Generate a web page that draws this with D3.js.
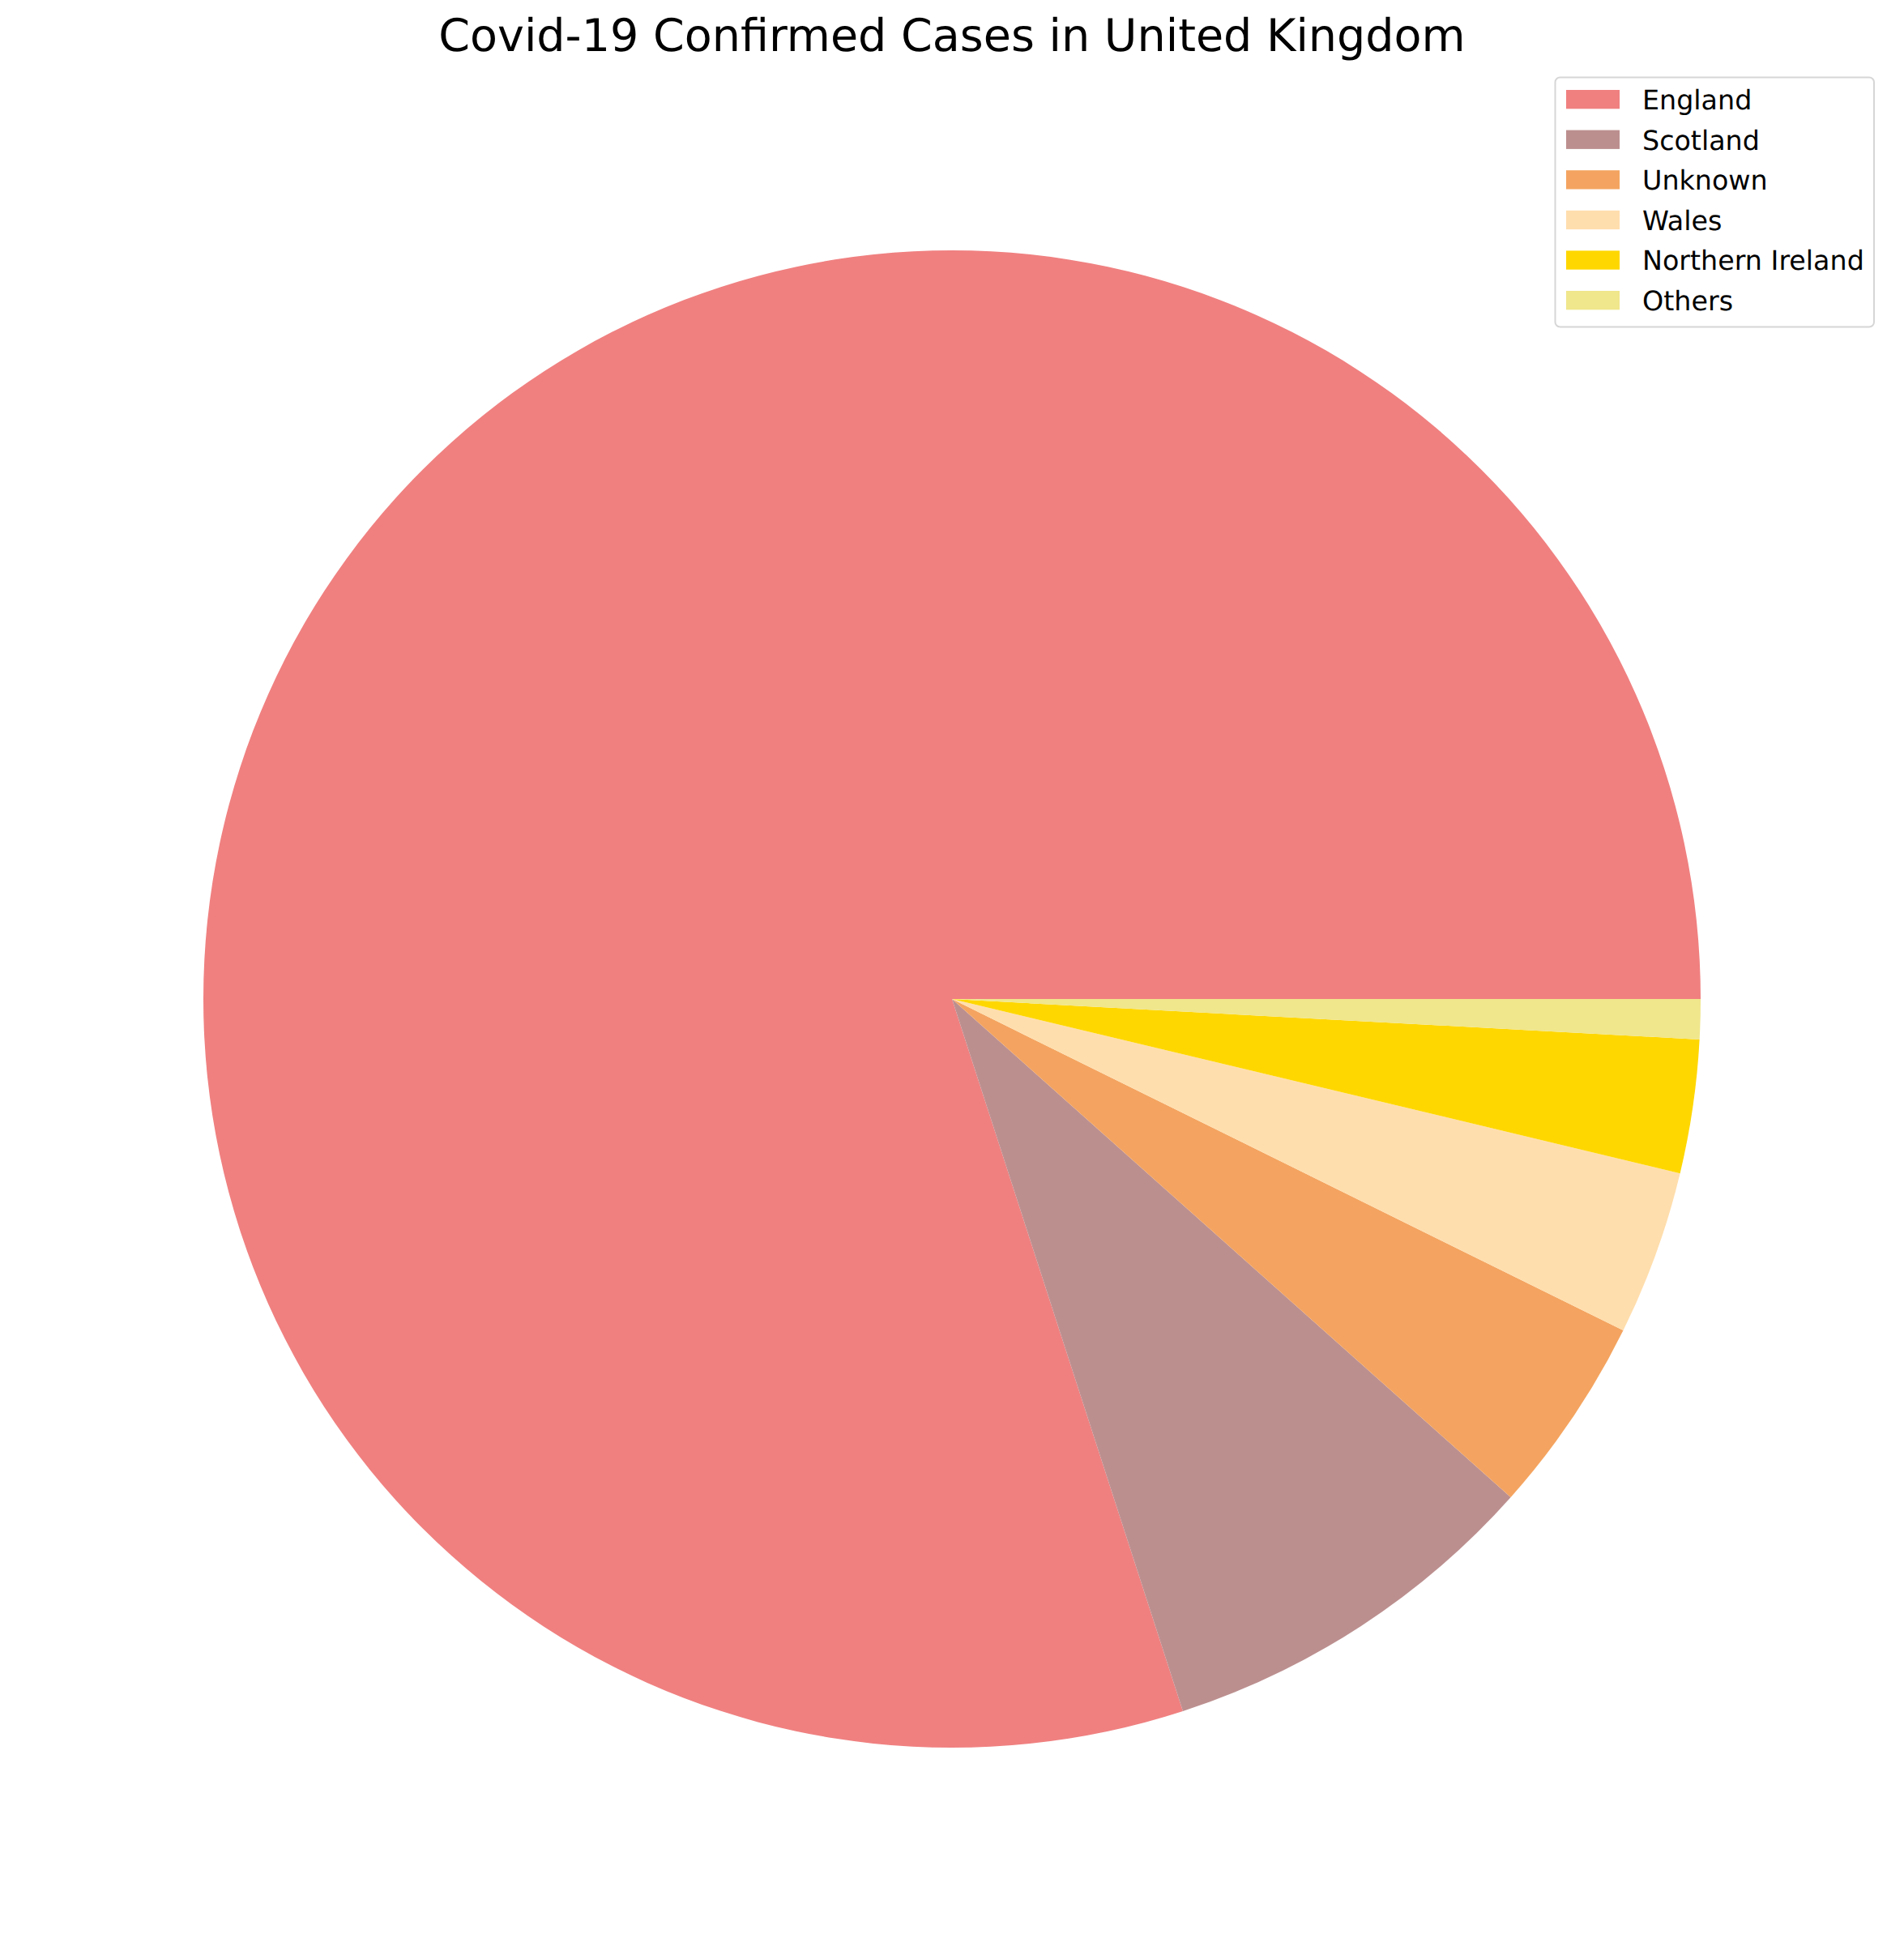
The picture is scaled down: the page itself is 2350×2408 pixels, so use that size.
<!DOCTYPE html>
<html>
<head>
<meta charset="utf-8">
<script src="https://cdn.jsdelivr.net/npm/d3@7/dist/d3.min.js"></script>
<style>
html,body{margin:0;padding:0;background:#fff;}
svg{display:block;}
text{font-family:"DejaVu Sans",sans-serif;fill:#000;text-rendering:geometricPrecision;}
</style>
</head>
<body>
<script>
const categories = ["England","Scotland","Unknown","Wales","Northern Ireland","Others"];
const shares = [79.99,8.42,4.29,3.56,2.88,0.86];
const colors = ["#F08080","#BC8F8F","#F4A460","#FFDEAD","#FFD700","#F0E68C"];
const chartTitle = "Covid-19 Confirmed Cases in United Kingdom";

const width = 2350, height = 2408;
const cx = 1175, cy = 1233, radius = 924;

const svg = d3.select("body").append("svg")
  .attr("width", width).attr("height", height)
  .attr("viewBox", `0 0 ${width} ${height}`);

svg.append("rect").attr("width", width).attr("height", height).attr("fill", "#fff");

const pie = d3.pie().sort(null)
  .startAngle(Math.PI / 2)
  .endAngle(Math.PI / 2 - 2 * Math.PI);
const arc = d3.arc().innerRadius(0).outerRadius(radius);

const rows = categories.map((name, i) => ({name, value: shares[i], color: colors[i]}));

svg.append("g").attr("transform", `translate(${cx},${cy})`)
  .selectAll("path")
  .data(pie.value(d => d.value)(rows))
  .join("path")
  .attr("d", arc)
  .attr("fill", d => d.data.color);

svg.append("text")
  .attr("x", cx).attr("y", 63)
  .attr("text-anchor", "middle")
  .attr("font-size", 55.56)
  .text(chartTitle);

const legend = svg.append("g");
legend.append("rect")
  .attr("x", 1919.5).attr("y", 95.5)
  .attr("width", 393.5).attr("height", 308)
  .attr("rx", 6)
  .attr("fill", "#fff")
  .attr("stroke", "#d6d6d6")
  .attr("stroke-width", 2);

const rowY = d3.scalePoint().domain(categories).range([111, 359]);
const item = legend.selectAll("g.item").data(rows).join("g").attr("class", "item");
item.append("rect")
  .attr("x", 1933).attr("y", d => rowY(d.name))
  .attr("width", 66).attr("height", 23.3)
  .attr("fill", d => d.color);
item.append("text")
  .attr("x", 2027).attr("y", d => rowY(d.name) + 24)
  .attr("font-size", 33.33)
  .text(d => d.name);
</script>
</body>
</html>
